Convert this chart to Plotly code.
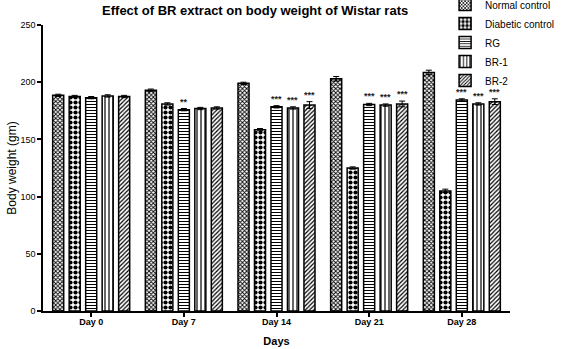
import plotly.graph_objects as go

days = ["Day 0", "Day 7", "Day 14", "Day 21", "Day 28"]
series_names = ["Normal control", "Diabetic control", "RG", "BR-1", "BR-2"]
normal = [188.5, 193, 199, 203, 208.5]
diabetic = [187.5, 181, 158.5, 125, 105]
rg = [186.5, 176, 178.5, 180.5, 184.5]
br1 = [188, 177, 177.5, 180, 181]
br2 = [187.5, 177.5, 180, 181, 183]
normal_err = [1, 1, 1, 2, 2]
diabetic_err = [1, 1, 1, 1, 1.5]
rg_err = [1, 1, 1, 1, 1]
br1_err = [1, 1, 1, 1, 1]
br2_err = [1, 1, 3, 2.5, 2.5]
rg_sig = ["", "**", "***", "***", "***"]
br1_sig = ["", "", "***", "***", "***"]
br2_sig = ["", "", "***", "***", "***"]

values = [normal, diabetic, rg, br1, br2]
errors = [normal_err, diabetic_err, rg_err, br1_err, br2_err]
sigs = [None, None, rg_sig, br1_sig, br2_sig]
patterns = [
    dict(shape="x", size=3, solidity=0.5, fgcolor="black", bgcolor="white"),
    dict(shape=".", size=5, solidity=0.55, fgcolor="black", bgcolor="white"),
    dict(shape="-", size=3, solidity=0.35, fgcolor="black", bgcolor="white"),
    dict(shape="|", size=4, solidity=0.3, fgcolor="black", bgcolor="white"),
    dict(shape="/", size=3, solidity=0.4, fgcolor="black", bgcolor="white"),
]

BARGAP = 0.11
FONT = "Liberation Sans, Arial, sans-serif"

fig = go.Figure()
for name, v, e, p in zip(series_names, values, errors, patterns):
    fig.add_trace(go.Bar(
        name=name, x=days, y=v,
        marker=dict(color="white", line=dict(color="black", width=1.5), pattern=p),
        error_y=dict(type="data", array=e, visible=True, color="black", thickness=1, width=3),
    ))

n = len(series_names)
slot = (1 - BARGAP) / n
for i, s in enumerate(sigs):
    if s is None:
        continue
    for j, txt in enumerate(s):
        if not txt:
            continue
        fig.add_annotation(
            x=j + (i - (n - 1) / 2) * slot, y=values[i][j] + errors[i][j],
            text="<b>" + txt + "</b>", showarrow=False, yanchor="bottom", yshift=0,
            font=dict(size=9, color="#222", family=FONT),
        )

fig.update_layout(
    template="none",
    width=567, height=349,
    margin=dict(l=43, r=57, t=25, b=38, autoexpand=False),
    paper_bgcolor="white", plot_bgcolor="white",
    barmode="group", bargap=BARGAP, bargroupgap=0.33,
    font=dict(family=FONT, color="black"),
    title=dict(text="<b>Effect of BR extract on body weight of Wistar rats</b>",
               x=0.45, xanchor="center", y=1, yanchor="top",
               pad=dict(t=6), font=dict(size=13)),
    legend=dict(x=0.861, y=1.122, xanchor="left", yanchor="top",
                bgcolor="rgba(0,0,0,0)", font=dict(size=10),
                itemwidth=30, tracegroupgap=0),
    showlegend=True,
)
fig.update_xaxes(
    showline=True, linecolor="black", linewidth=1.5,
    ticks="outside", ticklen=4, tickcolor="black", tickwidth=1.5,
    tickfont=dict(size=9), tickprefix="<b>", ticksuffix="</b>",
    ticklabelstandoff=-3,
    title=dict(text="<b>Days</b>", font=dict(size=11), standoff=12),
    range=[-0.52, 4.52], showgrid=False,
)
fig.update_yaxes(
    showline=True, linecolor="black", linewidth=1.5,
    ticks="outside", ticklen=4, tickcolor="black", tickwidth=1.5,
    tickfont=dict(size=9), tickprefix="<b>", ticksuffix="</b>",
    tickvals=[0, 50, 100, 150, 200, 250],
    title=dict(text="Body weight (gm)", font=dict(size=12), standoff=1),
    range=[0, 250], showgrid=False, zeroline=False,
)

fig.write_html("out.html", config={"displayModeBar": False},
               post_script="document.body.style.margin='0';")
